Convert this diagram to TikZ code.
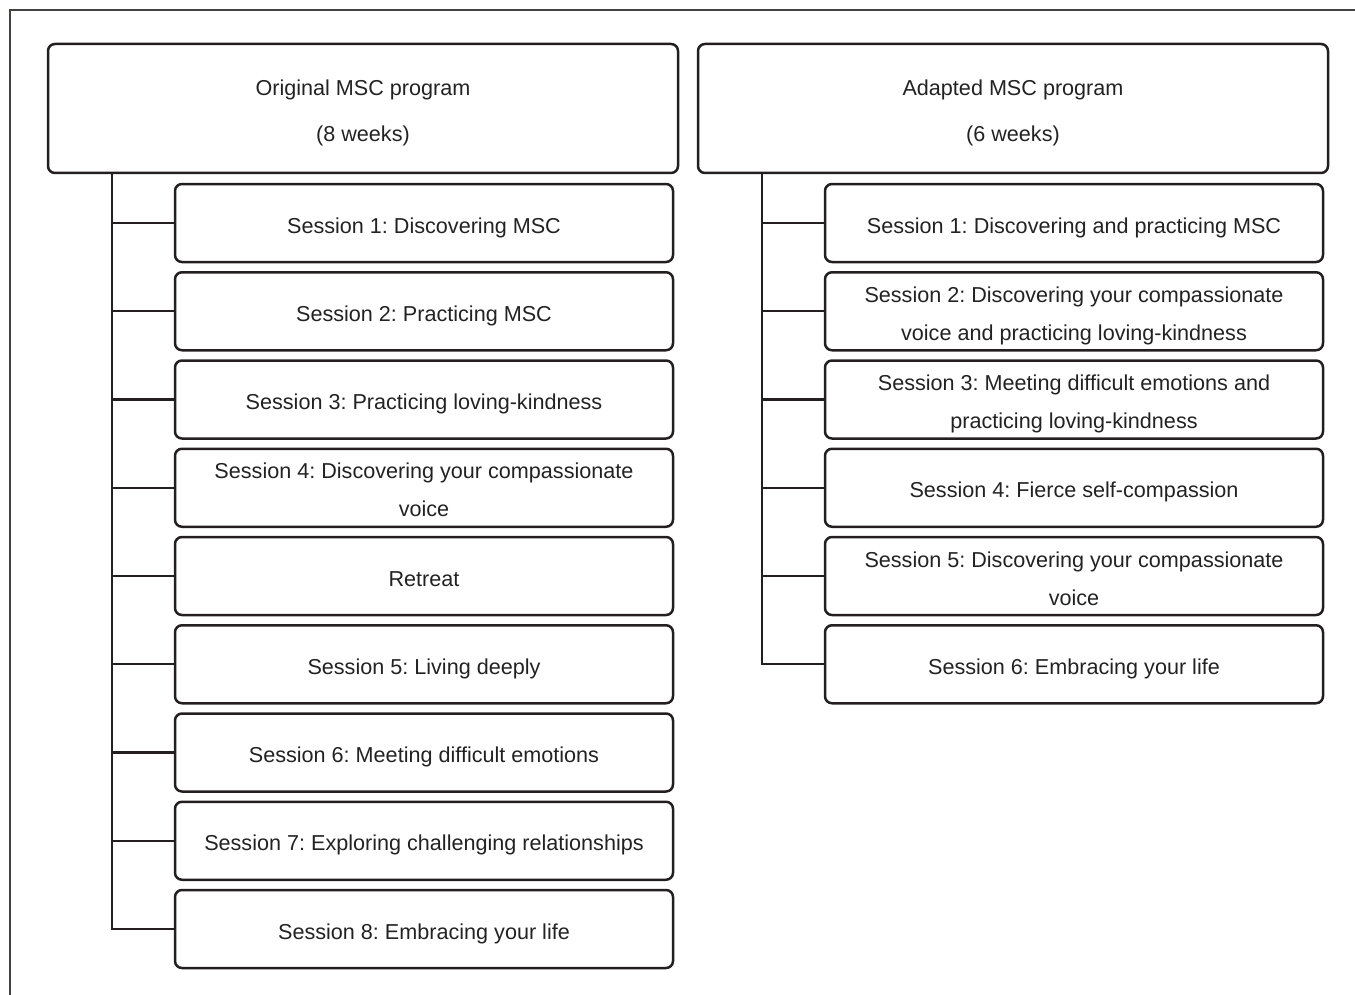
\documentclass[tikz,border=0pt]{standalone}
\usepackage{fontspec}
\setmainfont{Liberation Sans}
\frenchspacing
\definecolor{ink}{HTML}{231F20}
\definecolor{txt}{HTML}{222222}
\newcommand\topstrut{\rule{0pt}{12.3pt}}
\newcommand\botstrut{\rule[-2.3pt]{0pt}{2.3pt}}
\begin{document}
\begin{tikzpicture}[x=0.5pt,y=-0.5pt,
  hdrbox/.style={draw=ink,line width=1.25pt,rounded corners=3.5pt,minimum width=315pt,minimum height=64.5pt,align=center,text=txt,font=\fontsize{10.8}{23}\selectfont,inner sep=0pt},
  sessbox/.style={draw=ink,line width=1.25pt,rounded corners=3.5pt,minimum width=249pt,minimum height=39pt,align=center,text=txt,font=\fontsize{10.8}{19}\selectfont,inner sep=0pt},
  conn/.style={draw=ink,line width=1.1pt},
  frameline/.style={draw=ink!85,line width=0.7pt}]
\useasboundingbox (0,0) rectangle (1355,995);
\coordinate (fA) at (1355,10);
\coordinate (fB) at (10,10);
\coordinate (fC) at (10,995);
\draw[frameline] (fA) -- (fB) -- (fC);
% headers
\node[hdrbox] (hL) at (363,108.5) {\topstrut Original MSC program\\(8 weeks)\botstrut};
\node[hdrbox] (hR) at (1013,108.5) {\topstrut Adapted MSC program\\(6 weeks)\botstrut};
% left sessions
\node[sessbox] (L1) at (424,223) {\topstrut Session 1: Discovering MSC\botstrut};
\node[sessbox] (L2) at (424,311.25) {\topstrut Session 2: Practicing MSC\botstrut};
\node[sessbox] (L3) at (424,399.5) {\topstrut Session 3: Practicing loving-kindness\botstrut};
\node[sessbox] (L4) at (424,487.75) {\topstrut Session 4: Discovering your compassionate\\voice\botstrut};
\node[sessbox] (L5) at (424,576) {\topstrut Retreat\botstrut};
\node[sessbox] (L6) at (424,664.25) {\topstrut Session 5: Living deeply\botstrut};
\node[sessbox] (L7) at (424,752.5) {\topstrut Session 6: Meeting difficult emotions\botstrut};
\node[sessbox] (L8) at (424,840.75) {\topstrut Session 7: Exploring challenging relationships\botstrut};
\node[sessbox] (L9) at (424,929) {\topstrut Session 8: Embracing your life\botstrut};
% right sessions
\node[sessbox] (R1) at (1074,223) {\topstrut Session 1: Discovering and practicing MSC\botstrut};
\node[sessbox] (R2) at (1074,311.25) {\topstrut Session 2: Discovering your compassionate\\voice and practicing loving-kindness\botstrut};
\node[sessbox] (R3) at (1074,399.5) {\topstrut Session 3: Meeting difficult emotions and\\practicing loving-kindness\botstrut};
\node[sessbox] (R4) at (1074,487.75) {\topstrut Session 4: Fierce self-compassion\botstrut};
\node[sessbox] (R5) at (1074,576) {\topstrut Session 5: Discovering your compassionate\\voice\botstrut};
\node[sessbox] (R6) at (1074,664.25) {\topstrut Session 6: Embracing your life\botstrut};
% trunks
\coordinate (tL) at (112,173);
\coordinate (tR) at (762,173);
\draw[conn] (tL) |- (L9.west);
\foreach \i in {1,...,8} \draw[conn] (L\i.west) -- (L\i.west -| tL);
\draw[conn] (tR) |- (R6.west);
\foreach \i in {1,...,5} \draw[conn] (R\i.west) -- (R\i.west -| tR);
\end{tikzpicture}
\end{document}
